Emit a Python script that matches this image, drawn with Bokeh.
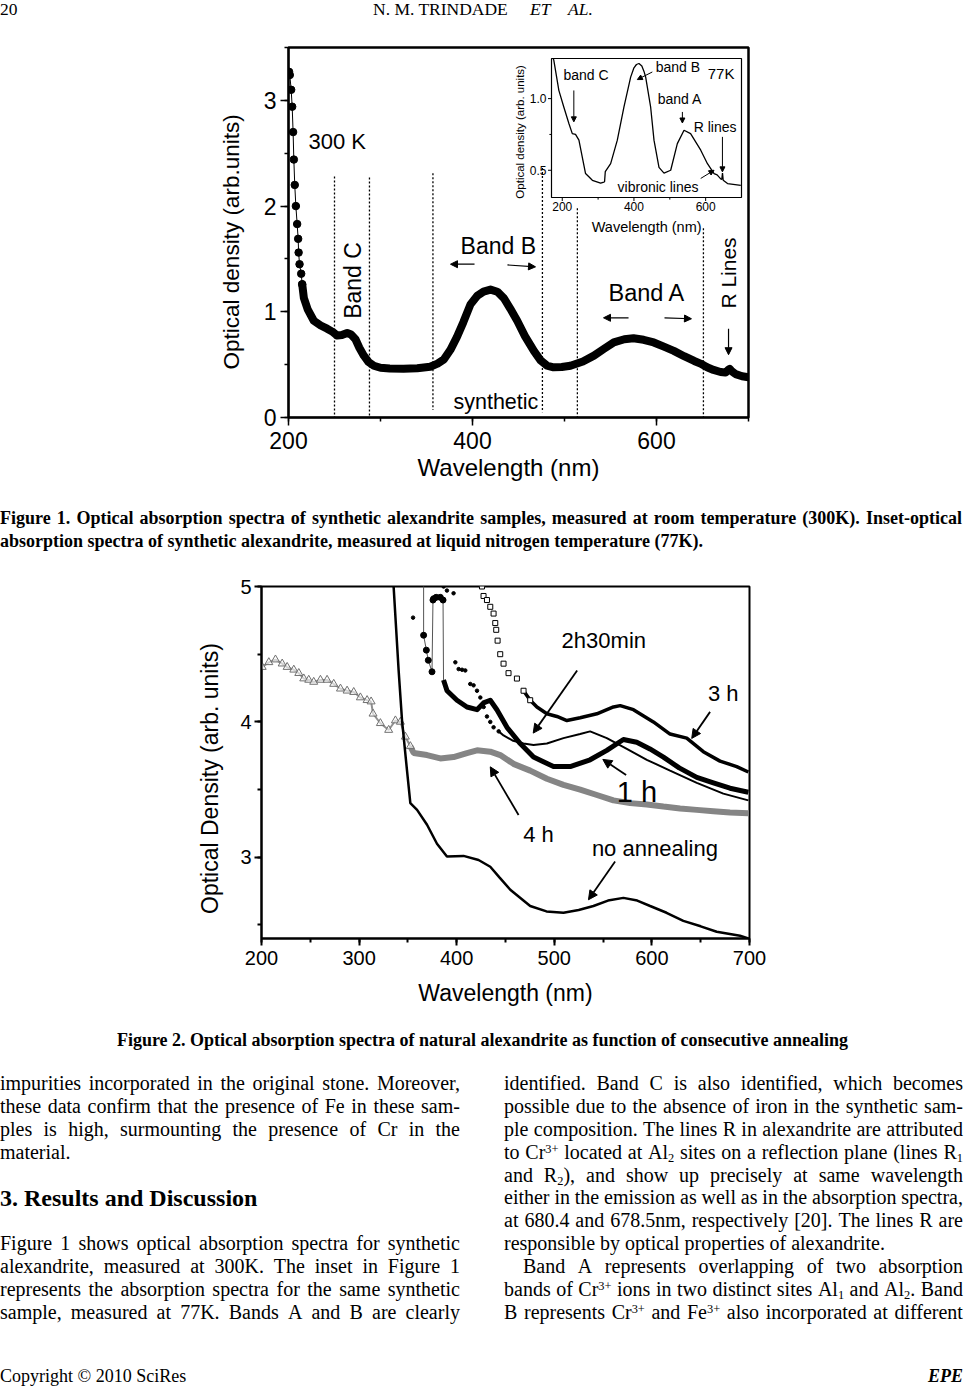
import math
from bokeh.plotting import figure
from bokeh.models import Range1d, SingleIntervalTicker, Label, Arrow, NormalHead, Div, Spacer
from bokeh.layouts import column, row
from bokeh.embed import file_html
from bokeh.resources import INLINE

SANS = "Liberation Sans"
SERIF = "Liberation Serif"
NB = "\u00a0"

# ---------------------------------------------------------------- data
# Figure 1: synthetic alexandrite, 300 K
W_300K = [200.6, 201.4, 202.9, 204, 205, 205.8, 206.8, 208, 209.4, 210.5, 211, 212, 213.8, 214.9,
          216.7, 221, 227.5, 235, 242, 248, 253, 258, 263.8, 268, 272.8, 277, 281.9, 287, 292.8,
          300, 310, 325, 340, 354, 362, 369, 376, 383, 390, 397.8, 405, 412, 419.6, 427, 434, 441,
          448.6, 457, 466.7, 474, 481, 488, 497, 506.5, 520, 532, 543, 553.6, 565, 575, 586, 597,
          608, 618.8, 630, 641, 647.8, 655, 662, 669.6, 675, 678, 679.7, 681.5, 686, 693, 700]
OD_300K = [3.27, 3.24, 3.10, 2.94, 2.70, 2.44, 2.20, 2.00, 1.83, 1.69, 1.56, 1.45, 1.36, 1.26,
           1.13, 1.02, 0.915, 0.87, 0.84, 0.81, 0.775, 0.78, 0.80, 0.785, 0.74, 0.66, 0.585, 0.525, 0.49,
           0.47, 0.463, 0.46, 0.465, 0.48, 0.51, 0.55, 0.64, 0.76, 0.90, 1.07, 1.15, 1.19, 1.21, 1.19, 1.13, 1.03,
           0.915, 0.77, 0.63, 0.54, 0.49, 0.475, 0.478, 0.49, 0.53, 0.585, 0.65, 0.71, 0.74, 0.75, 0.735, 0.71,
           0.67, 0.63, 0.58, 0.535, 0.51, 0.475, 0.45, 0.43, 0.425, 0.45, 0.46, 0.44, 0.41, 0.39, 0.38]
# Inset: 77 K
W_77K = [175, 176.5, 190.5, 204.5, 218.5, 228, 237, 246.5, 256, 265, 284, 307, 316, 318, 320, 335,
         353.6, 372, 390.8, 400, 407, 414, 422, 428, 432.7, 446.6, 455.9, 469.8, 483.8, 502.5, 521,
         539.7, 558, 586.3, 605, 623.5, 632, 642, 645, 647, 649, 661, 698]
OD_77K = [1.28, 1.267, 1.058, 0.94, 0.826, 0.756, 0.75, 0.71, 0.59, 0.477, 0.43, 0.41, 0.418, 0.42, 0.49, 0.546,
          0.71, 0.94, 1.15, 1.215, 1.238, 1.245, 1.228, 1.19, 1.15, 0.94, 0.71, 0.52, 0.48, 0.5, 0.686,
          0.779, 0.756, 0.64, 0.546, 0.477, 0.468, 0.44, 0.437, 0.48, 0.43, 0.407, 0.395]
EDGE_W = [250, 288, 357, 476, 514, 651]
EDGE_TOP = [2.28, 2.27, 2.31, 2.36, 1.98, 1.79]
EDGE_BOT = [0.0, 0.0, 0.07, 0.05, 0.0, 0.0]
INSET_XTICKS = [200, 400, 600]
INSET_XMINOR = [300, 500]
INSET_YTICKS = [0.5, 1.0]
INSET_YMINOR = [0.75]

# Figure 2: natural alexandrite, consecutive annealing
W_NOANN = [333, 335.4, 340.5, 344, 349.1, 352.5, 359.4, 369.6, 379.8, 390, 407, 422.4, 434.4, 444,
           454.9, 475.3, 492, 509.4, 525, 540.1, 555, 570.8, 585, 598.2, 615, 632.2, 650, 666.4, 690.3, 698.8]
OD_NOANN = [5.3, 4.995, 4.38, 4.01, 3.64, 3.40, 3.35, 3.24, 3.10, 3.005, 3.01, 2.98, 2.93, 2.85,
            2.76, 2.64, 2.60, 2.59, 2.61, 2.64, 2.68, 2.70, 2.68, 2.64, 2.59, 2.53, 2.49, 2.45, 2.42, 2.40]
W_1H = [366.1, 366.1, 368.9, 370.9, 374.7, 375.7, 376.4, 379, 383.2, 386, 386.5, 390.1, 400.3, 410.5,
        420.8, 427.5, 434.4, 441.2, 451.5, 465.1, 478.7, 499.2, 516.3, 536.7, 553.8, 570.8, 584.5, 598,
        611.8, 628, 646, 663, 680, 698.8]
OD_1H = [5.05, 4.64, 4.53, 4.455, 4.37, 4.90, 4.91, 4.92, 4.92, 4.90, 4.31, 4.23, 4.16, 4.11,
         4.09, 4.14, 4.16, 4.09, 3.96, 3.84, 3.74, 3.67, 3.67, 3.72, 3.79, 3.87, 3.85, 3.80,
         3.74, 3.66, 3.59, 3.55, 3.51, 3.48]
W_2H30 = [355.3, 386.6, 390, 396.8, 398.6, 402, 405.5, 408.8, 413.9, 417.3, 420.8, 424.2, 427.6, 431,
          434.4, 437.8, 443, 448, 457.9, 468.5, 478.7, 492.4, 509.4, 526.5, 536.7, 553.8, 574.3, 594.8,
          618.6, 646, 673.2, 698.8]
OD_2H30 = [4.77, 5.0, 4.97, 4.95, 4.44, 4.39, 4.385, 4.38, 4.28, 4.27, 4.23, 4.18, 4.11, 4.04,
           4.00, 3.96, 3.93, 3.90, 3.86, 3.84, 3.83, 3.84, 3.88, 3.91, 3.93, 3.88, 3.80, 3.72,
           3.64, 3.55, 3.47, 3.42]
W_3H = [425.9, 427.5, 431, 434.4, 437.8, 439.5, 440.5, 441.9, 444.6, 448, 453.1, 461.7, 468.5, 475.3,
        482.2, 492.4, 502.7, 512.9, 526.5, 543.6, 560.6, 567.5, 581.1, 601.5, 618.6, 635.7, 652.7,
        669.8, 686.9, 698.8]
OD_3H = [5.0, 4.93, 4.90, 4.85, 4.80, 4.73, 4.68, 4.60, 4.50, 4.43, 4.36, 4.32, 4.23, 4.16,
         4.11, 4.06, 4.04, 4.01, 4.03, 4.06, 4.11, 4.12, 4.09, 4.00, 3.91, 3.88, 3.78,
         3.71, 3.67, 3.63]
W_4H = [200.7, 207.5, 214.3, 221.2, 226.3, 233.1, 238.2, 243.3, 248.4, 253.5, 260.4, 267.2, 274, 280.9,
        287.7, 294.5, 301.3, 308.2, 312.3, 314.3, 321.8, 330.3, 337.2, 342.3, 347.4, 352.5, 355.9,
        369.6, 383.2, 396.8, 410.5, 420.8, 434.4, 444.6, 458.2, 475.3, 492.4, 509.4, 526.5, 543.6,
        560.6, 577.7, 594.8, 611.8, 628.9, 646, 663, 680, 698.8]
OD_4H = [4.405, 4.44, 4.46, 4.43, 4.405, 4.385, 4.36, 4.32, 4.31, 4.295, 4.31, 4.31, 4.28, 4.245,
         4.23, 4.22, 4.18, 4.16, 4.15, 4.06, 3.99, 3.94, 4.01, 4.0, 3.89, 3.82, 3.77,
         3.755, 3.73, 3.74, 3.77, 3.79, 3.78, 3.755, 3.69, 3.64, 3.58, 3.535, 3.50, 3.46,
         3.42, 3.40, 3.39, 3.375, 3.36, 3.35, 3.34, 3.33, 3.325]

# ---------------------------------------------------------------- page layout (pixels)
PAGE_W = 965
HEAD_TOP, HEAD_H = 0, 24
P1_TOP, P1_H, P1_X = 24, 466, 27
F1 = dict(L=288, R=748, T=47, B=417)
IN_L, IN_R, IN_T, IN_B = 551, 741, 58, 197          # inset box on the page
IN_X0, IN_X1, IN_Y0, IN_Y1 = 170, 700, 0.31, 1.28     # inset data limits
CAP1_TOP, CAP1_H = 490, 70
P2_TOP, P2_H, P2_X = 560, 452, 0
F2 = dict(L=261, R=749, T=586, B=938)
LOW_TOP, LOW_H = 1012, 374


def make_fig(x0, top, h, F, xr, yr, lw_outline):
    p = figure(width=PAGE_W - x0, height=h, x_range=xr, y_range=yr, title=None,
               output_backend="svg", toolbar_location=None,
               min_border_left=F["L"] - x0, min_border_right=PAGE_W - F["R"],
               min_border_top=F["T"] - top, min_border_bottom=top + h - F["B"],
               background_fill_color="white", border_fill_color="white",
               outline_line_color="black", outline_line_width=lw_outline)
    p.xgrid.visible = False
    p.ygrid.visible = False
    return p


def style_axes(p, tick_size, tick_out, minor_out, xstand, ystand, lw,
               xlabel, ylabel, xl_size, yl_size, xl_stand, yl_stand):
    for ax in (p.xaxis[0], p.yaxis[0]):
        ax.axis_line_width = lw
        ax.axis_line_color = "black"
        ax.major_tick_line_width = lw
        ax.minor_tick_line_width = lw
        ax.major_tick_line_color = "black"
        ax.minor_tick_line_color = "black"
        ax.major_tick_out = tick_out
        ax.major_tick_in = 0
        ax.minor_tick_out = minor_out
        ax.minor_tick_in = 0
        ax.major_label_text_font = SANS
        ax.major_label_text_font_size = f"{tick_size}px"
        ax.major_label_text_color = "black"
        ax.axis_label_text_font = SANS
        ax.axis_label_text_font_style = "normal"
        ax.axis_label_text_color = "black"
    p.xaxis[0].major_label_standoff = xstand
    p.yaxis[0].major_label_standoff = ystand
    p.xaxis[0].axis_label = xlabel
    p.yaxis[0].axis_label = ylabel
    p.xaxis[0].axis_label_text_font_size = f"{xl_size}px"
    p.yaxis[0].axis_label_text_font_size = f"{yl_size}px"
    p.xaxis[0].axis_label_standoff = xl_stand
    p.yaxis[0].axis_label_standoff = yl_stand


def data_label(p, x, y, text, size, angle=0.0, align="left", baseline="middle",
               xr="default", yr="default", x_off=0, y_off=0):
    p.add_layout(Label(x=x, y=y, text=text, text_font=SANS, text_font_size=f"{size}px",
                       text_color="black", text_align=align, text_baseline=baseline, angle=angle,
                       x_range_name=xr, y_range_name=yr, x_offset=x_off, y_offset=y_off))


def arrow(p, x0, y0, x1, y1, width=1.2, head=7, xr="default", yr="default"):
    p.add_layout(Arrow(x_start=x0, y_start=y0, x_end=x1, y_end=y1, line_width=width,
                       line_color="black",
                       end=NormalHead(size=head, fill_color="black", line_color="black", line_width=1),
                       x_range_name=xr, y_range_name=yr))


# ================================================================ Figure 1
p1 = make_fig(P1_X, P1_TOP, P1_H, F1, Range1d(200, 700), Range1d(0, 3.5), 2.5)
p1.xaxis[0].ticker = SingleIntervalTicker(interval=200, num_minor_ticks=2)
p1.yaxis[0].ticker = SingleIntervalTicker(interval=1, num_minor_ticks=2)
style_axes(p1, 23, 8, 4, 6, 4, 1.5,
           "Wavelength (nm)" + NB * 3, "Optical density (arb.units)" + NB * 3, 24, 22.5, 2, 17)

# band boundary dotted lines
for w, t, b in zip(EDGE_W, EDGE_TOP, EDGE_BOT):
    p1.add_layout(Arrow(x_start=w, y_start=t, x_end=w, y_end=b, end=None,
                        line_dash="2 2", line_color="black", line_width=1.3))

# 300 K spectrum
i0 = [i for i, w in enumerate(W_300K) if w >= 214.9][0]
p1.line(W_300K, OD_300K, line_color="black", line_width=1)
p1.line(W_300K[i0:], OD_300K[i0:], line_color="black", line_width=8, line_join="round", line_cap="round")
p1.scatter(W_300K[:i0 + 1], OD_300K[:i0 + 1], marker="circle", size=7.5, color="black")

data_label(p1, 221.7, 2.613, "300 K", 22)
data_label(p1, 269.6, 1.296, "Band C", 23, angle=math.pi / 2, align="center")
data_label(p1, 387, 1.627, "Band B", 23)
data_label(p1, 547.8, 1.173, "Band A", 23.5)
data_label(p1, 678.3, 1.367, "R Lines", 21, angle=math.pi / 2, align="center")
data_label(p1, 379.3, 0.142, "synthetic", 21.5)
arrow(p1, 402.2, 1.45, 376.1, 1.45)
arrow(p1, 438, 1.443, 468.5, 1.425)
arrow(p1, 569.6, 0.943, 542.4, 0.943)
arrow(p1, 608.7, 0.943, 638, 0.934)
arrow(p1, 678.3, 0.84, 678.3, 0.594)

# ---- inset (own data ranges mapped onto the inset box)
sx_in = (IN_R - IN_L) / (IN_X1 - IN_X0)
sy_in = (IN_B - IN_T) / (IN_Y1 - IN_Y0)
p1.extra_x_ranges = {"ix": Range1d(IN_X0 - (IN_L - F1["L"]) / sx_in, IN_X1 + (F1["R"] - IN_R) / sx_in)}
p1.extra_y_ranges = {"iy": Range1d(IN_Y0 - (F1["B"] - IN_B) / sy_in, IN_Y1 + (IN_T - F1["T"]) / sy_in)}
IR = dict(x_range_name="ix", y_range_name="iy")

p1.quad(left=[IN_X0], right=[IN_X1], bottom=[IN_Y0], top=[IN_Y1], fill_color="white",
        line_color="black", line_width=1.2, **IR)
p1.line(W_77K, OD_77K, line_color="black", line_width=1.3, **IR)
tx, ty = 3.5 / sx_in, 3.5 / sy_in
p1.segment(x0=INSET_XTICKS, y0=[IN_Y0] * len(INSET_XTICKS), x1=INSET_XTICKS,
           y1=[IN_Y0 - ty] * len(INSET_XTICKS), line_color="black", line_width=1, **IR)
p1.segment(x0=INSET_XMINOR, y0=[IN_Y0] * len(INSET_XMINOR), x1=INSET_XMINOR,
           y1=[IN_Y0 - ty * 0.6] * len(INSET_XMINOR), line_color="black", line_width=1, **IR)
p1.segment(x0=[IN_X0] * len(INSET_YTICKS), y0=INSET_YTICKS, x1=[IN_X0 - tx] * len(INSET_YTICKS),
           y1=INSET_YTICKS, line_color="black", line_width=1, **IR)
p1.segment(x0=[IN_X0] * len(INSET_YMINOR), y0=INSET_YMINOR, x1=[IN_X0 - tx * 0.6] * len(INSET_YMINOR),
           y1=INSET_YMINOR, line_color="black", line_width=1, **IR)
for t in INSET_XTICKS:
    data_label(p1, t, IN_Y0, str(t), 12, align="center", baseline="top", xr="ix", yr="iy", y_off=-4)
for t in INSET_YTICKS:
    data_label(p1, IN_X0, t, f"{t:.1f}", 12, align="right", baseline="middle", xr="ix", yr="iy", x_off=-5)
data_label(p1, 83.4, 0.768, "Optical density (arb. units)", 11.5, angle=math.pi / 2, align="center",
           xr="ix", yr="iy")
data_label(p1, 435.4, 0.103, "Wavelength (nm)", 14.5, align="center", xr="ix", yr="iy")
data_label(p1, 203.5, 1.163, "band C", 14, xr="ix", yr="iy")
data_label(p1, 460.5, 1.221, "band B", 14, xr="ix", yr="iy")
data_label(p1, 605.8, 1.177, "77K", 15, xr="ix", yr="iy")
data_label(p1, 466.1, 1.0, "band A", 14, xr="ix", yr="iy")
data_label(p1, 566.6, 0.803, "R lines", 14, xr="ix", yr="iy")
data_label(p1, 354.4, 0.384, "vibronic lines", 14, xr="ix", yr="iy")
arrow(p1, 232.3, 1.057, 232.3, 0.838, width=1, head=5, xr="ix", yr="iy")
arrow(p1, 451.3, 1.186, 409.4, 1.133, width=1, head=5, xr="ix", yr="iy")
arrow(p1, 535.1, 0.907, 535.1, 0.83, width=1, head=5, xr="ix", yr="iy")
arrow(p1, 646.8, 0.733, 646.8, 0.489, width=1, head=5, xr="ix", yr="iy")
arrow(p1, 586.2, 0.443, 623.4, 0.5, width=1, head=5, xr="ix", yr="iy")

# ================================================================ Figure 2
p2 = make_fig(P2_X, P2_TOP, P2_H, F2, Range1d(200, 700), Range1d(2.4, 5.0), 2)
p2.xaxis[0].ticker = SingleIntervalTicker(interval=100, num_minor_ticks=2)
p2.yaxis[0].ticker = SingleIntervalTicker(interval=1, num_minor_ticks=2)
style_axes(p2, 20, 7, 4, 5, 3, 2,
           "Wavelength (nm)", "Optical Density (arb. units)" + NB * 5, 23, 23, 12, 14)

# 4 h (grey open triangles)
k4 = [i for i, w in enumerate(W_4H) if w >= 352.5][0]
p2.line(W_4H[k4:], OD_4H[k4:], line_color="#858585", line_width=6)
p2.line(W_4H[:k4 + 1], OD_4H[:k4 + 1], line_color="#909090", line_width=2)
p2.scatter(W_4H[:k4 + 1], OD_4H[:k4 + 1], marker="triangle", size=8, line_color="#707070",
           fill_color="white", fill_alpha=0.6, line_width=1)
# no annealing
p2.line(W_NOANN, OD_NOANN, line_color="black", line_width=2.5)
# 2h30min (small dots, then thin line)
k25 = [i for i, w in enumerate(W_2H30) if w >= 443][0]
p2.scatter(W_2H30[:k25 + 1], OD_2H30[:k25 + 1], marker="circle", size=3.5, color="black")
p2.line(W_2H30[k25:], OD_2H30[k25:], line_color="black", line_width=2)
# 3 h (open squares)
k3 = [i for i, w in enumerate(W_3H) if w >= 468.5][0]
p2.line(W_3H[k3:], OD_3H[k3:], line_color="black", line_width=3.5)
p2.scatter(W_3H[:k3 + 2], OD_3H[:k3 + 2], marker="square", size=5, line_color="black",
           fill_color="white", line_width=1)
# 1 h (filled circles, thin connectors)
k1 = [i for i, w in enumerate(W_1H) if w >= 386.5 and OD_1H[i] < 4.5][0]
p2.line(W_1H, OD_1H, line_color="#555555", line_width=1)
p2.scatter(W_1H[1:k1], OD_1H[1:k1], marker="circle", size=6, color="black")
p2.line(W_1H[k1:], OD_1H[k1:], line_color="black", line_width=5, line_join="round")

data_label(p2, 507.5, 4.60, "2h30min", 22)
data_label(p2, 657.5, 4.21, "3 h", 22)
data_label(p2, 564.1, 3.484, "1 h", 29)
data_label(p2, 468.2, 3.165, "4 h", 22)
data_label(p2, 538.5, 3.067, "no annealing", 22)
arrow(p2, 523.4, 4.38, 478.4, 3.917, width=1.8, head=9)
arrow(p2, 659.6, 4.074, 640.8, 3.878, width=1.8, head=9)
arrow(p2, 573.6, 3.607, 549.7, 3.723, width=1.8, head=9)
arrow(p2, 463.4, 3.312, 434.4, 3.668, width=1.8, head=9)
arrow(p2, 562.3, 2.968, 535.0, 2.686, width=1.8, head=9)

# ================================================================ text blocks
STYLE = ("<style>"
         ".pg{position:relative;overflow:hidden;font-family:'Liberation Serif',serif;color:#000;}"
         ".ln{position:absolute;white-space:nowrap;}"
         ".jf{position:absolute;white-space:nowrap;display:flex;justify-content:space-between;"
         "align-items:baseline;}"
         "sup{font-size:0.62em;vertical-align:0.45em;line-height:0;}"
         "sub{font-size:0.62em;vertical-align:-0.22em;line-height:0;}"
         "</style>")
DIV_HOST = {"font-size": "0px", "line-height": "0px", "overflow": "hidden"}


def tline(text, left, baseline, size, div_top, width=None, justify=False, weight="normal",
          style="normal", align=None):
    top = baseline - div_top - 0.8375 * size
    css = (f"left:{left}px;top:{top:.2f}px;font-size:{size}px;line-height:{size}px;"
           f"font-weight:{weight};font-style:{style};")
    if width:
        css += f"width:{width}px;"
    if align:
        css += f"text-align:{align};"
    if justify:
        inner = "".join(f"<span>{w}</span>" for w in text.split(" "))
        return f'<div class="jf" style="{css}">{inner}</div>'
    return f'<div class="ln" style="{css}">{text}</div>'


def block(lines, h):
    return (f'{STYLE}<div class="pg" style="display:block;width:{PAGE_W}px;height:{h}px;">'
            f'{"".join(lines)}</div>')


def text_div(lines, h):
    return Div(text=block(lines, h), width=PAGE_W, height=h, margin=0, styles=DIV_HOST)


head_lines = [
    tline("20", 0, 16, 17.5, HEAD_TOP),
    tline("N. M. TRINDADE", 373, 16, 17.5, HEAD_TOP),
    tline("ET", 530, 16, 17.5, HEAD_TOP, style="italic"),
    tline("AL.", 568, 16, 17.5, HEAD_TOP, style="italic"),
]
head = text_div(head_lines, HEAD_H)

cap1_lines = [
    tline("Figure 1. Optical absorption spectra of synthetic alexandrite samples, measured at room "
          "temperature (300K). Inset-optical", 0, 524, 18, CAP1_TOP, width=962, justify=True, weight="bold"),
    tline("absorption spectra of synthetic alexandrite, measured at liquid nitrogen temperature (77K).",
          0, 547.5, 18, CAP1_TOP, weight="bold"),
]
cap1 = text_div(cap1_lines, CAP1_H)

BL = [1090 + 22.83 * k for k in range(11)]
LEFT_TXT = [
    ("impurities incorporated in the original stone. Moreover,", True),
    ("these data confirm that the presence of Fe in these sam-", True),
    ("ples is high, surmounting the presence of Cr in the", True),
    ("material.", False),
]
LEFT_TXT2 = [
    ("Figure 1 shows optical absorption spectra for synthetic", True),
    ("alexandrite, measured at 300K. The inset in Figure 1", True),
    ("represents the absorption spectra for the same synthetic", True),
    ("sample, measured at 77K. Bands A and B are clearly", True),
]
RIGHT_TXT = [
    ("identified. Band C is also identified, which becomes", True, 504),
    ("possible due to the absence of iron in the synthetic sam-", True, 504),
    ("ple composition. The lines R in alexandrite are attributed", True, 504),
    ("to Cr<sup>3+</sup> located at Al<sub>2</sub> sites on a reflection plane (lines R<sub>1</sub>", True, 504),
    ("and R<sub>2</sub>), and show up precisely at same wavelength", True, 504),
    ("either in the emission as well as in the absorption spectra,", True, 504),
    ("at 680.4 and 678.5nm, respectively [20]. The lines R are", True, 504),
    ("responsible by optical properties of alexandrite.", False, 504),
    ("Band A represents overlapping of two absorption", True, 523),
    ("bands of Cr<sup>3+</sup> ions in two distinct sites Al<sub>1</sub> and Al<sub>2</sub>. Band", True, 504),
    ("B represents Cr<sup>3+</sup> and Fe<sup>3+</sup> also incorporated at different", True, 504),
]

low_lines = [tline("Figure 2. Optical absorption spectra of natural alexandrite as function of "
                   "consecutive annealing", 0, 1046, 18, LOW_TOP, width=PAGE_W, weight="bold",
                   align="center")]
for (t, j), b in zip(LEFT_TXT, BL[:4]):
    low_lines.append(tline(t, 0, b, 20, LOW_TOP, width=460, justify=j))
low_lines.append(tline("3. Results and Discussion", 0, 1206, 24, LOW_TOP, weight="bold"))
for (t, j), b in zip(LEFT_TXT2, BL[7:]):
    low_lines.append(tline(t, 0, b, 20, LOW_TOP, width=460, justify=j))
for (t, j, x0), b in zip(RIGHT_TXT, BL):
    low_lines.append(tline(t, x0, b, 20, LOW_TOP, width=963 - x0, justify=j))
low_lines.append(tline("Copyright &copy; 2010 SciRes", 0, 1382, 18, LOW_TOP))
low_lines.append(tline("EPE", 0, 1382, 18, LOW_TOP, width=963, weight="bold", style="italic",
                       align="right"))
low = text_div(low_lines, LOW_H)

page = column(head, row(Spacer(width=P1_X, height=P1_H, margin=0), p1, spacing=0), cap1, p2, low,
              spacing=0)

open("out.html", "w").write(file_html(page, INLINE))
